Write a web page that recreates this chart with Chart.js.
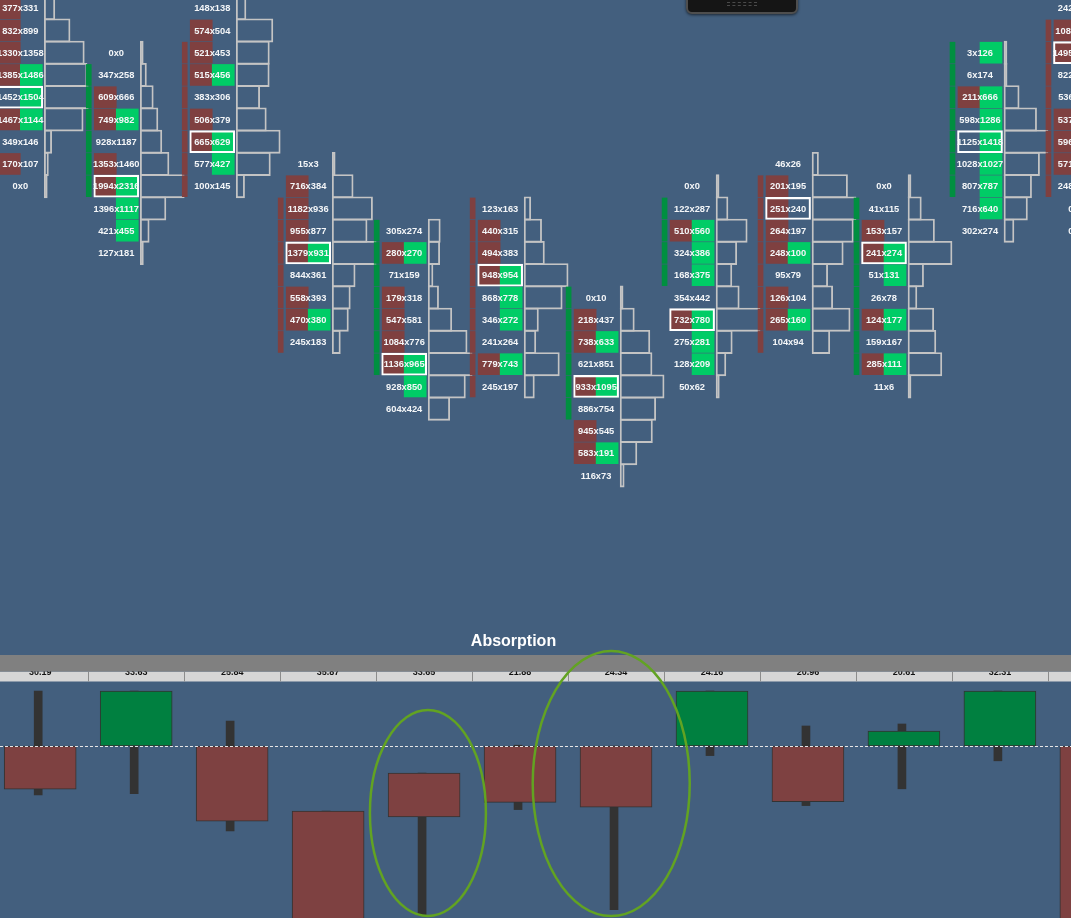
<!DOCTYPE html>
<html>
<head>
<meta charset="utf-8">
<title>Footprint - Absorption</title>
<script src="https://cdn.jsdelivr.net/npm/chart.js@4.4.1/dist/chart.umd.min.js"></script>
<style>
  html, body { margin: 0; padding: 0; width: 1071px; height: 918px; overflow: hidden; background: #435f7e; }
  canvas { position: absolute; left: 0; }
  #foot { top: 0; }
  #absorb { top: 625px; }
  .widget {
    position: absolute; left: 686px; top: -10px; width: 108px; height: 20px;
    background: #151515; border: 2px solid #4e4e4e; border-radius: 6px;
    box-shadow: 0 1px 3px rgba(0,0,0,0.6);
  }
  .grip {
    position: absolute; left: 39px; top: 10px; width: 30px; height: 2px;
    border-top: 1px dashed #4a4a4a; border-bottom: 1px dashed #4a4a4a;
  }
</style>
</head>
<body>
<canvas id="foot" width="1071" height="625"></canvas>
<canvas id="absorb" width="1071" height="293"></canvas>
<div class="widget"><div class="grip"></div></div>
<script>
// --- footprint columns: first (top) price level of each bar ---
const footLevel = [0, 2, 0, 7, 10, 9, 13, 8, 7, 8, 2, 0];

// bid volume per level, top to bottom
const bidVol = [
  [377, 832, 1330, 1385, 1452, 1467, 349, 170, 0],
  [0, 347, 609, 749, 928, 1353, 1994, 1396, 421, 127],
  [148, 574, 521, 515, 383, 506, 665, 577, 100],
  [15, 716, 1182, 955, 1379, 844, 558, 470, 245],
  [305, 280, 71, 179, 547, 1084, 1136, 928, 604],
  [123, 440, 494, 948, 868, 346, 241, 779, 245],
  [0, 218, 738, 621, 933, 886, 945, 583, 116],
  [0, 122, 510, 324, 168, 354, 732, 275, 128, 50],
  [46, 201, 251, 264, 248, 95, 126, 265, 104],
  [0, 41, 153, 241, 51, 26, 124, 159, 285, 11],
  [3, 6, 211, 598, 1125, 1028, 807, 716, 302],
  [242, 1086, 1495, 822, 536, 537, 596, 571, 248, 0, 0]
];

// ask volume per level, top to bottom
const askVol = [
  [331, 899, 1358, 1486, 1504, 1144, 146, 107, 0],
  [0, 258, 666, 982, 1187, 1460, 2316, 1117, 455, 181],
  [138, 504, 453, 456, 306, 379, 629, 427, 145],
  [3, 384, 936, 877, 931, 361, 393, 380, 183],
  [274, 270, 159, 318, 581, 776, 965, 850, 424],
  [163, 315, 383, 954, 778, 272, 264, 743, 197],
  [10, 437, 633, 851, 1095, 754, 545, 191, 73],
  [0, 287, 560, 386, 375, 442, 780, 281, 209, 62],
  [26, 195, 240, 197, 100, 79, 104, 160, 94],
  [0, 115, 157, 274, 131, 78, 177, 167, 111, 6],
  [126, 174, 666, 1286, 1418, 1027, 787, 640, 274],
  [219, 938, 1342, 805, 511, 468, 512, 489, 230, 6, 0]
];

// imbalance marks per level: R = bid side, G = ask side, B = both, - = none
const cellMark = [
  "RRRBGB-R-", "--RB-RBGG-", "-RRB-RBG-", "-RRRB-RB-", "-B-RRRBG-", "-RRBGG-B-",
  "-RB-B-RB-", "--BGG-BGG-", "-RRRB-RB-", "--RBG-B-B-", "G-BGGGGG-", "-RR--RRR---"
];

// bar body (open/close) shown as the thin strip left of each column
const bodySide = ["", "G", "R", "R", "G", "R", "G", "G", "R", "G", "G", "R"];
const bodyFrom = [null, 3, 2, 9, 10, 9, 13, 9, 8, 9, 2, 1];
const bodyTo   = [null, 8, 8, 15, 16, 17, 18, 12, 15, 16, 8, 8];

// --- Absorption pane ---
const absorbValue = ["30.19", "33.63", "25.84", "35.87", "33.65", "21.88", "24.34", "24.16", "20.96", "20.61", "32.31", "28.40"];
const absorbBody = [[-10.8, 0], [0, 13.75], [-18.8, 0], [-50, -16.3], [-17.7, -6.8], [-14.1, 0],
                    [-15.3, 0], [0, 13.75], [-13.9, 0], [0, 3.7], [0, 13.75], [-50, 0]];
const absorbWick = [[-12.2, 13.75], [-11.9, 13.75], [-21.2, 6.25], [-50, -16.3], [-42.2, -6.8], [-15.9, 0.2],
                    [-40.9, 0], [-2.4, 13.75], [-14.9, 5], [-10.7, 5.5], [-3.7, 13.75], [-50, 0]];
const absorbUp = [false, true, false, false, false, false, false, true, false, true, true, false];

const PITCH = 95.97;   // px per column
const ROW = 22.25;     // px per price level
const u = px => px / PITCH;

const RED = "#7f4040", GREEN = "#00cc66";

/* ---------------- FOOTPRINT ---------------- */
const profileData = [], bidData = [], askData = [], bodyData = [], pocData = [];
bidVol.forEach((col, i) => {
  const tot = col.map((b, j) => b + askVol[i][j]);
  const max = Math.max(...tot);
  const poc = tot.indexOf(max);
  col.forEach((b, j) => {
    const lvl = footLevel[i] + j;
    const w = Math.max(u(3), tot[j] / max * u(44));
    profileData.push({ y: lvl, x: [i + u(24), i + u(24) + w] });
    const m = cellMark[i][j];
    if (m === "R" || m === "B") bidData.push({ y: lvl, x: [i - u(22), i] });
    if (m === "G" || m === "B") askData.push({ y: lvl, x: [i, i + u(22)] });
    if (j === poc) pocData.push({ y: lvl, x: [i - u(22.5), i + u(22.5)] });
  });
  if (bodyFrom[i] != null) {
    for (let l = bodyFrom[i]; l <= bodyTo[i]; l++) {
      bodyData.push({ y: l, x: [i - u(30), i - u(25)], up: bodySide[i] === "G" });
    }
  }
});

const footText = {
  id: "footText",
  afterDatasetsDraw(chart) {
    const { ctx, scales: { x, y } } = chart;
    ctx.save();
    ctx.font = 'bold 9.3px "Liberation Sans", Arial, sans-serif';
    ctx.fillStyle = "#f4f6f8";
    ctx.textAlign = "center";
    ctx.textBaseline = "middle";
    bidVol.forEach((col, i) => col.forEach((b, j) => {
      ctx.fillText(b + "x" + askVol[i][j], x.getPixelForValue(i), y.getPixelForValue(footLevel[i] + j) + 0.5);
    }));
    ctx.restore();
  }
};

const fxMin = -20.3 / PITCH;
const fyMin = -8.2 / ROW;
new Chart(document.getElementById("foot"), {
  type: "bar",
  data: {
    datasets: [
      { data: profileData, backgroundColor: "rgba(0,0,0,0)", borderColor: "#c4c4c4", borderWidth: 1.2,
        borderSkipped: false, barThickness: 23.4, grouped: false, order: 5 },
      { data: bidData, backgroundColor: RED, borderWidth: 0, barThickness: 21, grouped: false, order: 4 },
      { data: askData, backgroundColor: GREEN, borderWidth: 0, barThickness: 21, grouped: false, order: 3 },
      { data: bodyData, backgroundColor: c => (c.raw && c.raw.up) ? "#008f40" : RED,
        borderWidth: 0, barThickness: 21, grouped: false, order: 2 },
      { data: pocData, backgroundColor: "rgba(0,0,0,0)", borderColor: "#ffffff", borderWidth: 1.4,
        borderSkipped: false, barThickness: 22, grouped: false, order: 1 }
    ]
  },
  options: {
    indexAxis: "y",
    responsive: false,
    animation: false,
    events: [],
    plugins: { legend: { display: false }, tooltip: { enabled: false } },
    scales: {
      x: { type: "linear", display: false, offset: false, min: fxMin, max: fxMin + 1071 / PITCH },
      y: { type: "linear", display: false, offset: false, reverse: true, min: fyMin, max: fyMin + 625 / ROW }
    }
  },
  plugins: [footText]
});

/* ---------------- ABSORPTION ---------------- */
const absorbDecor = {
  id: "absorbDecor",
  afterDatasetsDraw(chart, args, opts) {
    const { ctx, width, scales: { x, y } } = chart;
    ctx.save();
    // zero line
    const y0 = Math.round(y.getPixelForValue(0)) + 0.5;
    ctx.strokeStyle = "#e6e6e6";
    ctx.lineWidth = 1;
    ctx.setLineDash([3, 2]);
    ctx.beginPath(); ctx.moveTo(0, y0); ctx.lineTo(width, y0); ctx.stroke();
    ctx.setLineDash([]);

    // value strip
    ctx.fillStyle = "#d6d6d6";
    ctx.fillRect(0, 46.5, width, 10);
    ctx.font = 'bold 9px "Liberation Sans", Arial, sans-serif';
    ctx.fillStyle = "#111";
    ctx.textAlign = "center";
    ctx.textBaseline = "alphabetic";
    absorbValue.forEach((t, i) => ctx.fillText(t, x.getPixelForValue(i), 49.5));
    ctx.strokeStyle = "#8c8c8c";
    for (let i = 0; i <= absorbValue.length; i++) {
      const px = Math.round(x.getPixelForValue(i - 0.5)) + 0.5;
      ctx.beginPath(); ctx.moveTo(px, 46.5); ctx.lineTo(px, 56.5); ctx.stroke();
    }
    ctx.fillStyle = "#808080";
    ctx.fillRect(0, 30, width, 16.5);

    // title
    ctx.font = 'bold 16px "Liberation Sans", Arial, sans-serif';
    ctx.fillStyle = "#ffffff";
    ctx.fillText(opts.text, width / 2 - 22, 21);

    // absorption rings
    ctx.strokeStyle = "#62a322";
    ctx.lineWidth = 2.5;
    opts.rings.forEach(r => {
      const top = y.getPixelForValue(r.top), bot = y.getPixelForValue(r.bottom);
      ctx.beginPath();
      ctx.ellipse(x.getPixelForValue(r.col), (top + bot) / 2, r.rx, (bot - top) / 2, 0, 0, Math.PI * 2);
      ctx.stroke();
    });
    ctx.restore();
  }
};

const axMin = -40.2 / PITCH;
new Chart(document.getElementById("absorb"), {
  type: "bar",
  data: {
    datasets: [
      { label: "Body", data: absorbBody.map((v, i) => ({ x: i, y: v })),
        backgroundColor: absorbUp.map(up => up ? "#008040" : "#7e4141"),
        borderColor: "#333333", borderWidth: 1, borderSkipped: false,
        barThickness: 72, grouped: false, order: 0 },
      { label: "Wick", data: absorbWick.map((v, i) => ({ x: i - u(2), y: v })),
        backgroundColor: "#333333", borderWidth: 0,
        barThickness: 8, grouped: false, order: 1 }
    ]
  },
  options: {
    responsive: false,
    animation: false,
    events: [],
    plugins: {
      legend: { display: false },
      tooltip: { enabled: false },
      absorbDecor: {
        text: "Absorption",
        rings: [
          { col: 4.04, top: 9, bottom: -42.5, rx: 58 },
          { col: 5.95, top: 23.75, bottom: -42.5, rx: 78.5 }
        ]
      }
    },
    scales: {
      x: { type: "linear", display: false, offset: false, min: axMin, max: axMin + 1071 / PITCH },
      y: { type: "linear", display: false, min: -43, max: 30.25 }
    }
  },
  plugins: [absorbDecor]
});
</script>
</body>
</html>
